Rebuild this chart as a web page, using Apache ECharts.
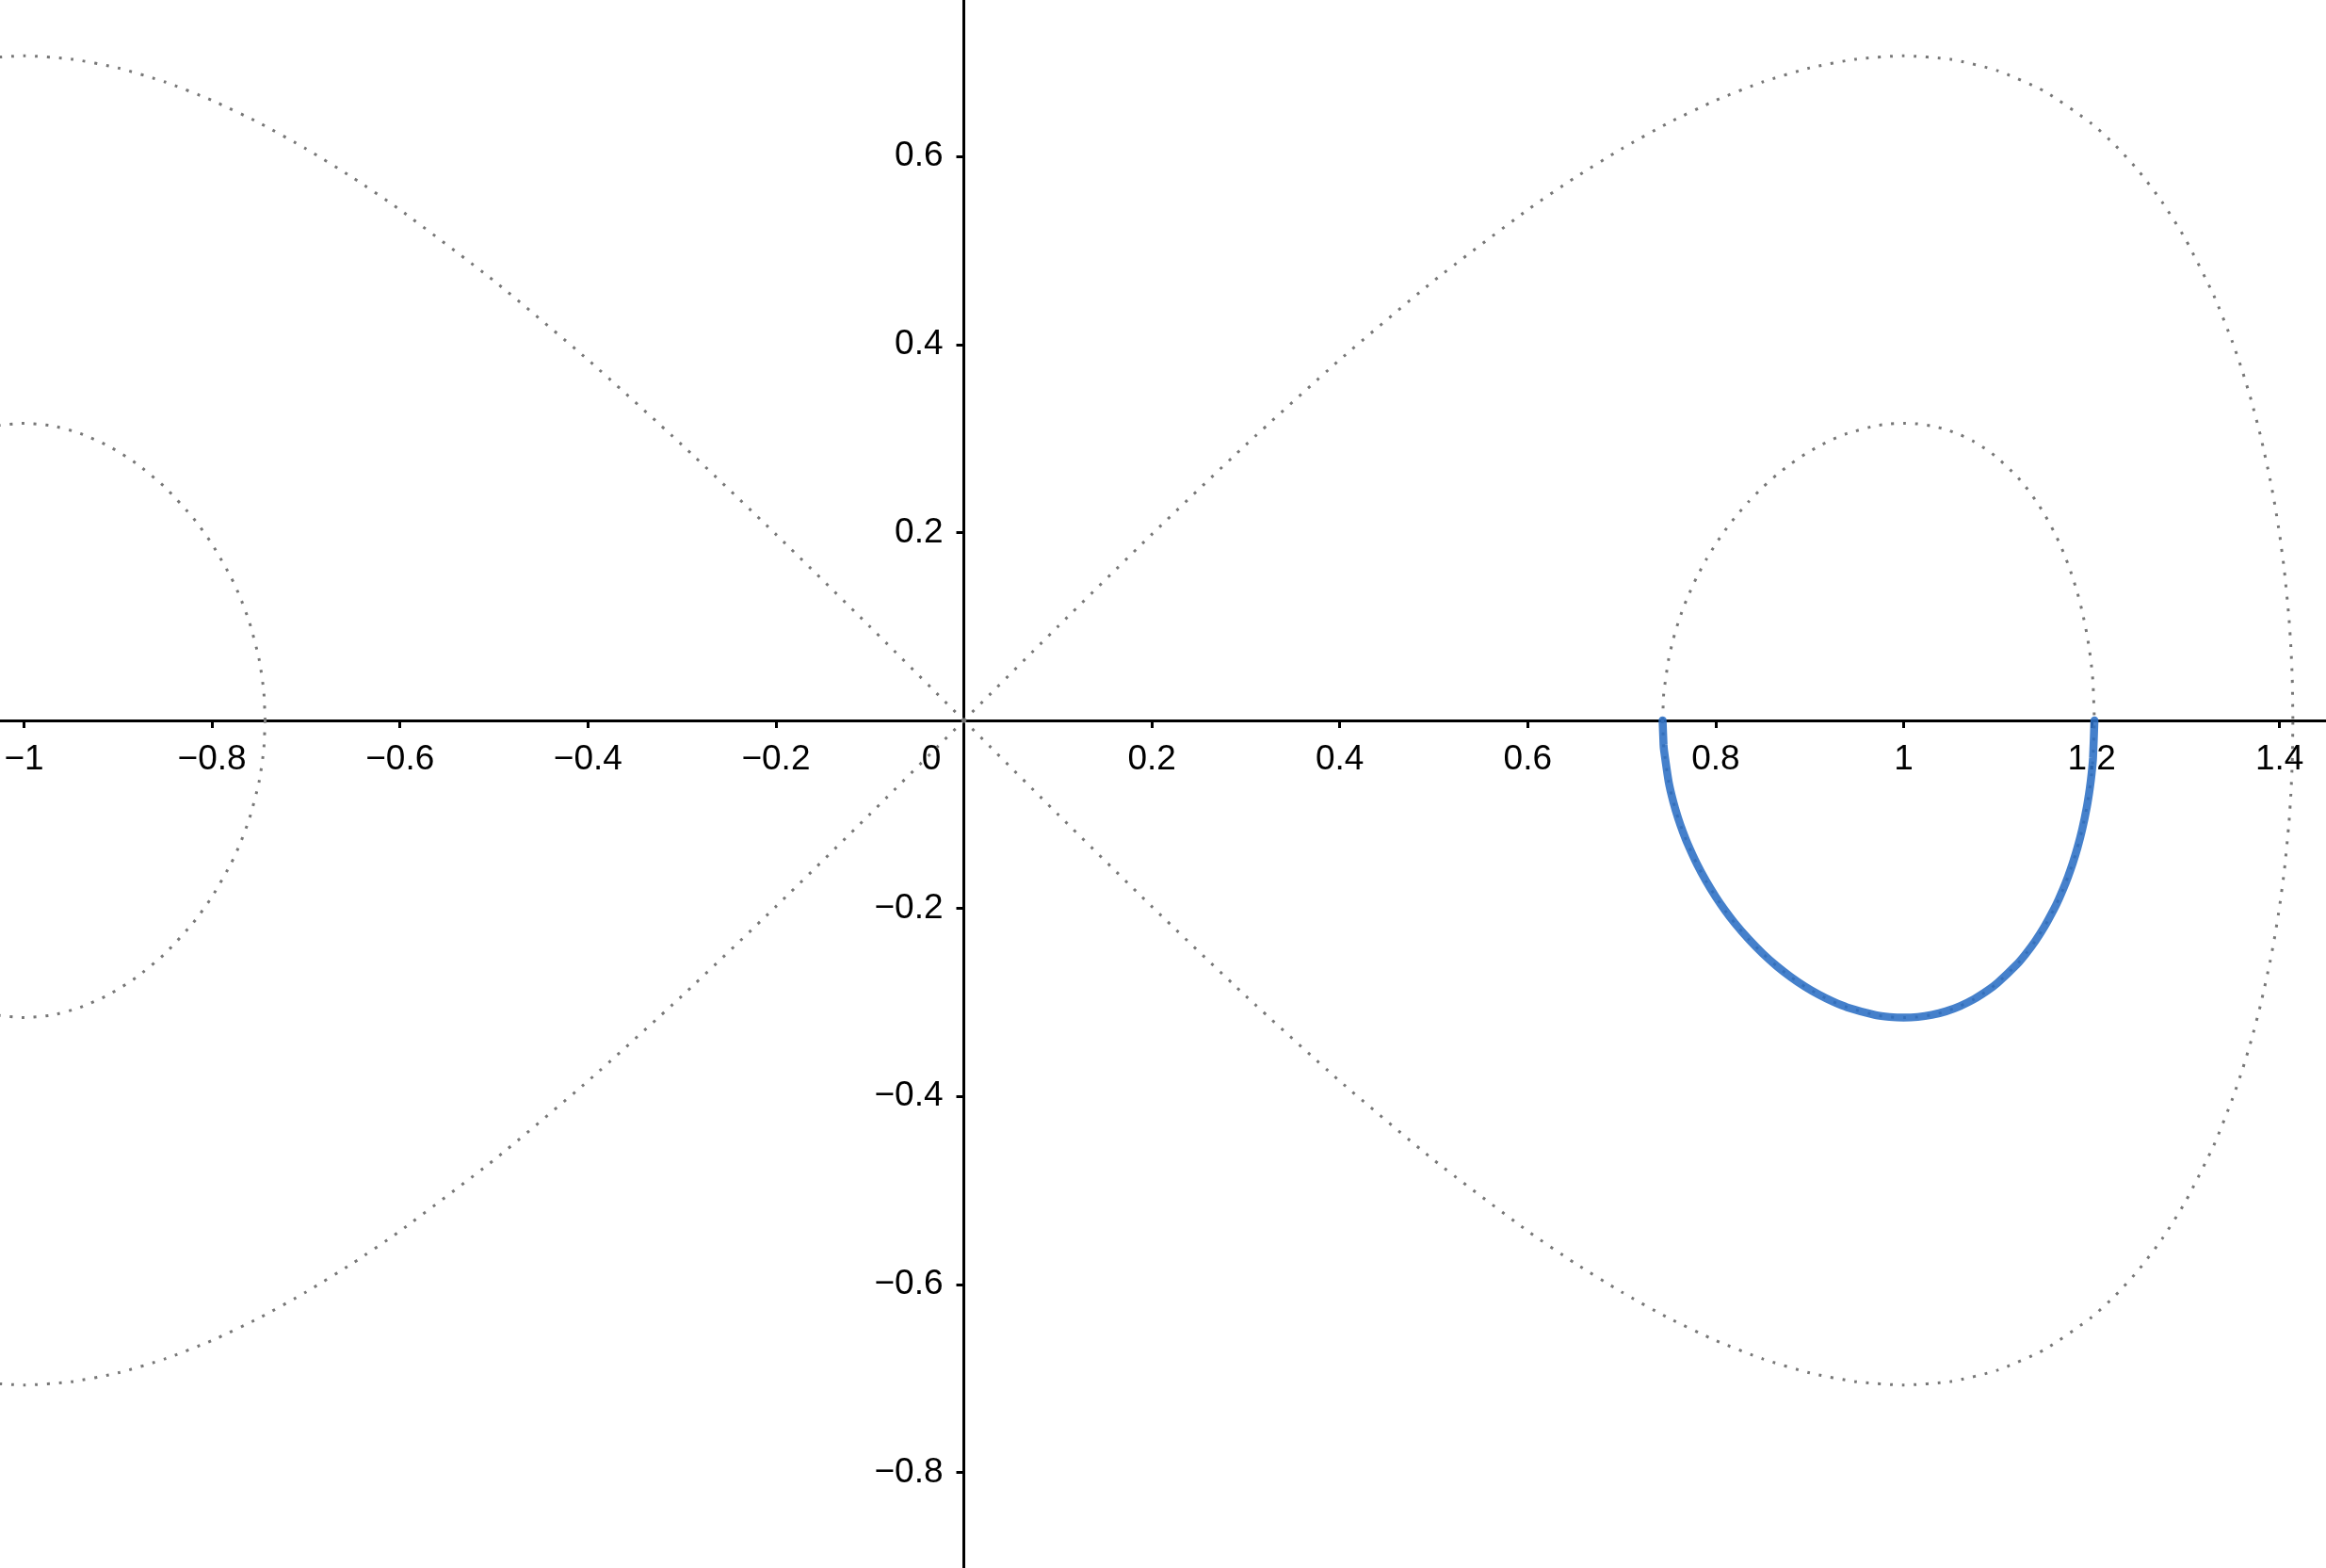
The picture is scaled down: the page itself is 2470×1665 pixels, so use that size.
<!DOCTYPE html>
<html>
<head>
<meta charset="utf-8">
<script src="https://cdn.jsdelivr.net/npm/echarts@6/dist/echarts.min.js"></script>
<style>
  html, body { margin: 0; padding: 0; background: #fff; }
  #main { width: 2470px; height: 1665px; }
</style>
</head>
<body>
<div id="main"></div>
<script>
// tick labels
const xTicks = [-1, -0.8, -0.6, -0.4, -0.2, 0, 0.2, 0.4, 0.6, 0.8, 1, 1.2, 1.4];
const yTicks = [-0.8, -0.6, -0.4, -0.2, 0.2, 0.4, 0.6];

// separatrix, right lobe
const rightLobeUpper = [[0,0],[0.1,0.0998],[0.2,0.1980],[0.3,0.2932],[0.4,0.3837],[0.5,0.4677],[0.6,0.5433],[0.65,0.5773],[0.7,0.6082],[0.75,0.6359],[0.8,0.6597],[0.85,0.6793],[0.9,0.6942],[0.95,0.7037],[1.0,0.7071],[1.05,0.7034],[1.1,0.6913],[1.15,0.6693],[1.2,0.6350],[1.225,0.6121],[1.25,0.5846],[1.275,0.5516],[1.3,0.5118],[1.33,0.4521],[1.35,0.4022],[1.36,0.3730],[1.37,0.3399],[1.38,0.3017],[1.39,0.2561],[1.395,0.2292],[1.4,0.1980],[1.405,0.1601],[1.41,0.1088],[1.412,0.0790],[1.4135,0.0449],[1.4142,0]];
const rightLobeLower = [[0,0],[0.1,-0.0998],[0.2,-0.1980],[0.3,-0.2932],[0.4,-0.3837],[0.5,-0.4677],[0.6,-0.5433],[0.65,-0.5773],[0.7,-0.6082],[0.75,-0.6359],[0.8,-0.6597],[0.85,-0.6793],[0.9,-0.6942],[0.95,-0.7037],[1.0,-0.7071],[1.05,-0.7034],[1.1,-0.6913],[1.15,-0.6693],[1.2,-0.6350],[1.225,-0.6121],[1.25,-0.5846],[1.275,-0.5516],[1.3,-0.5118],[1.33,-0.4521],[1.35,-0.4022],[1.36,-0.3730],[1.37,-0.3399],[1.38,-0.3017],[1.39,-0.2561],[1.395,-0.2292],[1.4,-0.1980],[1.405,-0.1601],[1.41,-0.1088],[1.412,-0.0790],[1.4135,-0.0449],[1.4142,0]];
// separatrix, left lobe
const leftLobeUpper = [[0,0],[-0.1,0.0998],[-0.2,0.1980],[-0.3,0.2932],[-0.4,0.3837],[-0.5,0.4677],[-0.6,0.5433],[-0.65,0.5773],[-0.7,0.6082],[-0.75,0.6359],[-0.8,0.6597],[-0.85,0.6793],[-0.9,0.6942],[-0.95,0.7037],[-1.0,0.7071],[-1.05,0.7034],[-1.1,0.6913],[-1.15,0.6693],[-1.2,0.6350],[-1.25,0.5846],[-1.3,0.5118],[-1.35,0.4022],[-1.4,0.1980],[-1.4142,0]];
const leftLobeLower = [[0,0],[-0.1,-0.0998],[-0.2,-0.1980],[-0.3,-0.2932],[-0.4,-0.3837],[-0.5,-0.4677],[-0.6,-0.5433],[-0.65,-0.5773],[-0.7,-0.6082],[-0.75,-0.6359],[-0.8,-0.6597],[-0.85,-0.6793],[-0.9,-0.6942],[-0.95,-0.7037],[-1.0,-0.7071],[-1.05,-0.7034],[-1.1,-0.6913],[-1.15,-0.6693],[-1.2,-0.6350],[-1.25,-0.5846],[-1.3,-0.5118],[-1.35,-0.4022],[-1.4,-0.1980],[-1.4142,0]];

// small orbit around (1, 0)
const rightOrbitUpper = [[0.7435,0],[0.7445,0.0258],[0.745,0.0316],[0.75,0.0656],[0.755,0.0870],[0.76,0.1039],[0.765,0.1182],[0.77,0.1309],[0.78,0.1527],[0.79,0.1713],[0.8,0.1876],[0.81,0.2022],[0.82,0.2153],[0.835,0.2327],[0.85,0.2480],[0.865,0.2614],[0.88,0.2730],[0.895,0.2832],[0.91,0.2919],[0.925,0.2993],[0.94,0.3053],[0.97,0.3135],[0.985,0.3155],[1.0,0.3162],[1.015,0.3155],[1.03,0.3133],[1.045,0.3095],[1.06,0.3039],[1.075,0.2965],[1.09,0.2869],[1.1,0.2792],[1.12,0.2601],[1.13,0.2483],[1.14,0.2348],[1.15,0.2191],[1.16,0.2007],[1.165,0.1903],[1.17,0.1788],[1.175,0.1660],[1.18,0.1517],[1.185,0.1353],[1.19,0.1159],[1.195,0.0916],[1.198,0.0728],[1.2,0.0566],[1.2015,0.0401],[1.203,0]];
const rightOrbitLower = [[0.7435,0],[0.7445,-0.0258],[0.745,-0.0316],[0.75,-0.0656],[0.755,-0.0870],[0.76,-0.1039],[0.765,-0.1182],[0.77,-0.1309],[0.78,-0.1527],[0.79,-0.1713],[0.8,-0.1876],[0.81,-0.2022],[0.82,-0.2153],[0.835,-0.2327],[0.85,-0.2480],[0.865,-0.2614],[0.88,-0.2730],[0.895,-0.2832],[0.91,-0.2919],[0.925,-0.2993],[0.94,-0.3053],[0.97,-0.3135],[0.985,-0.3155],[1.0,-0.3162],[1.015,-0.3155],[1.03,-0.3133],[1.045,-0.3095],[1.06,-0.3039],[1.075,-0.2965],[1.09,-0.2869],[1.1,-0.2792],[1.12,-0.2601],[1.13,-0.2483],[1.14,-0.2348],[1.15,-0.2191],[1.16,-0.2007],[1.165,-0.1903],[1.17,-0.1788],[1.175,-0.1660],[1.18,-0.1517],[1.185,-0.1353],[1.19,-0.1159],[1.195,-0.0916],[1.198,-0.0728],[1.2,-0.0566],[1.2015,-0.0401],[1.203,0]];
// small orbit around (-1, 0)
const leftOrbitUpper = [[-0.7435,0],[-0.745,0.0316],[-0.75,0.0656],[-0.76,0.1039],[-0.77,0.1309],[-0.78,0.1527],[-0.8,0.1876],[-0.82,0.2153],[-0.85,0.2480],[-0.88,0.2730],[-0.91,0.2919],[-0.94,0.3053],[-0.97,0.3135],[-1.0,0.3162],[-1.03,0.3133],[-1.06,0.3039],[-1.09,0.2869],[-1.12,0.2601],[-1.16,0.2007],[-1.19,0.1159],[-1.203,0]];
const leftOrbitLower = [[-0.7435,0],[-0.745,-0.0316],[-0.75,-0.0656],[-0.76,-0.1039],[-0.77,-0.1309],[-0.78,-0.1527],[-0.8,-0.1876],[-0.82,-0.2153],[-0.85,-0.2480],[-0.88,-0.2730],[-0.91,-0.2919],[-0.94,-0.3053],[-0.97,-0.3135],[-1.0,-0.3162],[-1.03,-0.3133],[-1.06,-0.3039],[-1.09,-0.2869],[-1.12,-0.2601],[-1.16,-0.2007],[-1.19,-0.1159],[-1.203,0]];

// highlighted path = lower half of the right orbit
const highlightPath = rightOrbitLower;

const xMin = -1.0256, xMax = 1.4494;
const yMin = -0.9018, yMax = 0.7665;
const W = 2470, H = 1665;
const font = 'Liberation Sans, Arial, sans-serif';

// v6 keeps labels at the grid edge, so shift both axes onto the origin with offset
const xAxisOffset = -(0 - yMin) / (yMax - yMin) * H;
const yAxisOffset = -(0 - xMin) / (xMax - xMin) * W;

function dotted(data) {
  return {
    type: 'line',
    data: data,
    showSymbol: false,
    smooth: 0.2,
    z: 4,
    lineStyle: { color: '#777', width: 3, type: [3, 9.7] }
  };
}

function fmt(v) {
  if (v === 0) return '{o|0}';
  return String(v).replace('-', '\u2212');
}

const option = {
  animation: false,
  grid: { left: 0, right: 0, top: 0, bottom: 0, containLabel: false, outerBoundsMode: 'none' },
  xAxis: {
    type: 'value',
    min: xMin,
    max: xMax,
    position: 'bottom',
    offset: xAxisOffset,
    splitLine: { show: false },
    axisLine: { show: true, onZero: false, lineStyle: { color: '#000', width: 3 } },
    axisTick: { show: true, length: 8, lineStyle: { color: '#000', width: 3 }, customValues: xTicks.filter(v => v !== 0) },
    axisLabel: {
      customValues: xTicks,
      formatter: fmt,
      margin: 23,
      color: '#000',
      fontSize: 37,
      fontFamily: font,
      rich: { o: { fontSize: 37, fontFamily: font, color: '#000', padding: [0, 69, 0, 0] } }
    }
  },
  yAxis: {
    type: 'value',
    min: yMin,
    max: yMax,
    position: 'left',
    offset: yAxisOffset,
    splitLine: { show: false },
    axisLine: { show: true, onZero: false, lineStyle: { color: '#000', width: 3 } },
    axisTick: { show: true, length: 8, lineStyle: { color: '#000', width: 3 }, customValues: yTicks },
    axisLabel: {
      customValues: yTicks,
      formatter: fmt,
      margin: 22,
      color: '#000',
      fontSize: 37,
      fontFamily: font
    }
  },
  series: [
    {
      type: 'line',
      data: highlightPath,
      showSymbol: false,
      smooth: 0.2,
      z: 5,
      lineStyle: { color: '#2b6ec4', width: 8.5, opacity: 0.88, cap: 'round' }
    },
    dotted(rightLobeUpper),
    dotted(rightLobeLower),
    dotted(leftLobeUpper),
    dotted(leftLobeLower),
    dotted(rightOrbitUpper),
    dotted(rightOrbitLower),
    dotted(leftOrbitUpper),
    dotted(leftOrbitLower)
  ]
};

const myChart = echarts.init(document.getElementById('main'));
myChart.setOption(option);
</script>
</body>
</html>
